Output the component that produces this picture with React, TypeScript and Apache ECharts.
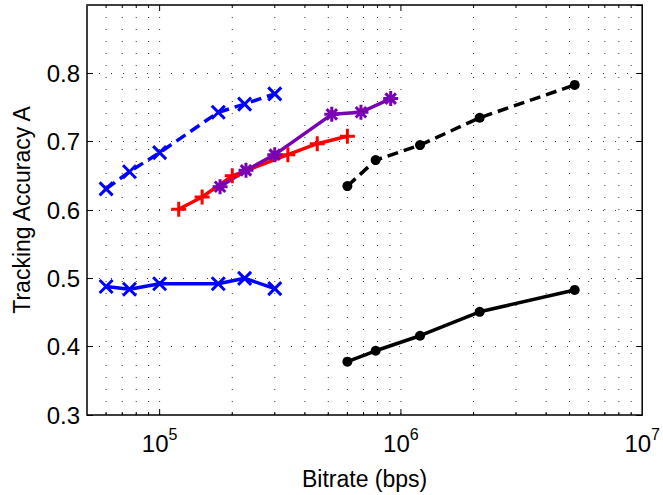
import React, { useEffect, useRef } from "react";
import * as echarts from "echarts";

// ---- data ----
const xBlue = [6e4, 7.5e4, 1e5, 1.75e5, 2.25e5, 3e5];
const yBlueDashed = [0.631, 0.656, 0.684, 0.743, 0.755, 0.77];
const yBlueSolid = [0.488, 0.484, 0.492, 0.492, 0.5, 0.485];

const xRed = [1.2e5, 1.5e5, 2e5, 3.4e5, 4.5e5, 6e5];
const yRed = [0.601, 0.619, 0.65, 0.681, 0.697, 0.708];

const xPurple = [1.78e5, 2.28e5, 3.0e5, 5.17e5, 6.83e5, 9.07e5];
const yPurple = [0.634, 0.658, 0.681, 0.74, 0.743, 0.763];

const xBlack = [6e5, 7.86e5, 1.2e6, 2.12e6, 5.25e6];
const yBlackDashed = [0.635, 0.673, 0.695, 0.735, 0.783];
const yBlackSolid = [0.378, 0.394, 0.416, 0.451, 0.483];

// axis ranges and grid/tick positions
const xMin = 5e4;
const xMax = 1e7;
const yMin = 0.3;
const yMax = 0.9;
const yStep = 0.1;
const xGridMajor = [1e5, 1e6];
const xGridMinor = [
  6e4, 7e4, 8e4, 9e4,
  2e5, 3e5, 4e5, 5e5, 6e5, 7e5, 8e5, 9e5,
  2e6, 3e6, 4e6, 5e6, 6e6, 7e6, 8e6, 9e6,
];

const FONT = "'Liberation Sans', Arial, Helvetica, sans-serif";

const zip = (xs: number[], ys: number[]) => xs.map((x, i) => [x, ys[i]]);

const XSYM = "path://M0,0L10,10M10,0L0,10";
const PLUS = "path://M5,0L5,10M0,5L10,5";
const STAR = "path://M5,0L5,10M0,5L10,5M1.5,1.5L8.5,8.5M8.5,1.5L1.5,8.5";

function lineSeries(
  data: number[][],
  color: string,
  dashed: boolean,
  symbol: string,
  symbolSize: number,
  stroked: boolean
) {
  return {
    type: "line",
    data,
    z: 3,
    symbol,
    symbolSize,
    symbolKeepAspect: true,
    showSymbol: true,
    lineStyle: { color, width: 3.5, type: dashed ? [11, 6] : "solid" },
    itemStyle: stroked
      ? { color, borderColor: color, borderWidth: 3 }
      : { color, borderWidth: 0 },
    emphasis: { disabled: true },
  };
}

export default function App() {
  const ref = useRef<HTMLDivElement>(null);
  useEffect(() => {
    const chart = echarts.init(ref.current!, null, { renderer: "svg" });
    const gridData = [...xGridMajor, ...xGridMinor].map((v) => [v, yMin]);
    chart.setOption({
      animation: false,
      backgroundColor: "#fff",
      textStyle: { fontFamily: FONT },
      grid: {
        left: 87,
        right: 20,
        top: 5,
        bottom: 76,
        show: true,
        borderColor: "#000",
        borderWidth: 1.5,
        backgroundColor: "transparent",
      },
      xAxis: {
        type: "log",
        logBase: 10,
        min: xMin,
        max: xMax,
        name: "Bitrate (bps)",
        nameLocation: "middle",
        nameGap: 52,
        nameTextStyle: { fontSize: 23, color: "#000", fontFamily: FONT },
        axisLine: { show: false },
        axisTick: { show: false },
        splitLine: { show: false },
        axisLabel: {
          showMinLabel: false,
          margin: 11,
          color: "#000",
          formatter: (v: number) => {
            const e = Math.log10(v);
            const r = Math.round(e);
            if (Math.abs(e - r) > 1e-6) return "";
            return `{b|10}{s|${r}}`;
          },
          rich: {
            b: { fontSize: 24, fontFamily: FONT, color: "#000", lineHeight: 34 },
            s: {
              fontSize: 16,
              fontFamily: FONT,
              color: "#000",
              lineHeight: 16,
              verticalAlign: "top",
            },
          },
        },
      },
      yAxis: [
        {
          type: "value",
          min: yMin,
          max: yMax,
          interval: yStep,
          name: "Tracking Accuracy A",
          nameLocation: "middle",
          nameGap: 54,
          nameTextStyle: { fontSize: 23, color: "#000", fontFamily: FONT },
          axisLine: { show: false },
          axisTick: { show: true, inside: true, length: 6, lineStyle: { color: "#000", width: 1 } },
          axisLabel: {
            showMaxLabel: false,
            fontSize: 24,
            color: "#000",
            margin: 7,
            fontFamily: FONT,
            formatter: (v: number) => v.toFixed(1),
          },
          splitLine: {
            show: true,
            lineStyle: { color: "#333", width: 1, type: [1, 11] },
          },
        },
        {
          type: "value",
          position: "right",
          min: yMin,
          max: yMax,
          interval: yStep,
          axisLine: { show: false },
          axisTick: { show: true, inside: true, length: 6, lineStyle: { color: "#000", width: 1 } },
          axisLabel: { show: false },
          splitLine: { show: false },
        },
      ],
      series: [
        {
          type: "custom",
          z: 1,
          silent: true,
          data: gridData,
          encode: { x: 0, y: 1 },
          renderItem: (params: any, api: any) => {
            const v = api.value(0);
            const cs = params.coordSys;
            const p = api.coord([v, yMin]);
            const x = p[0];
            const top = cs.y;
            const bottom = cs.y + cs.height;
            const tl = xGridMajor.includes(v) ? 6 : 3;
            return {
              type: "group",
              children: [
                {
                  type: "line",
                  shape: { x1: x, y1: top, x2: x, y2: bottom },
                  style: { stroke: "#333", lineWidth: 1, lineDash: [1, 11] },
                },
                {
                  type: "line",
                  shape: { x1: x, y1: bottom, x2: x, y2: bottom - tl },
                  style: { stroke: "#000", lineWidth: 1 },
                },
                {
                  type: "line",
                  shape: { x1: x, y1: top, x2: x, y2: top + tl },
                  style: { stroke: "#000", lineWidth: 1 },
                },
              ],
            };
          },
        },
        lineSeries(zip(xBlue, yBlueDashed), "#0000ff", true, XSYM, 13, true),
        lineSeries(zip(xBlue, yBlueSolid), "#0000ff", false, XSYM, 13, true),
        lineSeries(zip(xRed, yRed), "#ff0000", false, PLUS, 15, true),
        lineSeries(zip(xPurple, yPurple), "#7a00b4", false, STAR, 15, true),
        lineSeries(zip(xBlack, yBlackDashed), "#000000", true, "circle", 10, false),
        lineSeries(zip(xBlack, yBlackSolid), "#000000", false, "circle", 10, false),
      ],
    });
    return () => chart.dispose();
  }, []);
  return (
    <div
      ref={ref}
      style={{ position: "absolute", left: 0, top: 0, width: 663, height: 495 }}
    />
  );
}
